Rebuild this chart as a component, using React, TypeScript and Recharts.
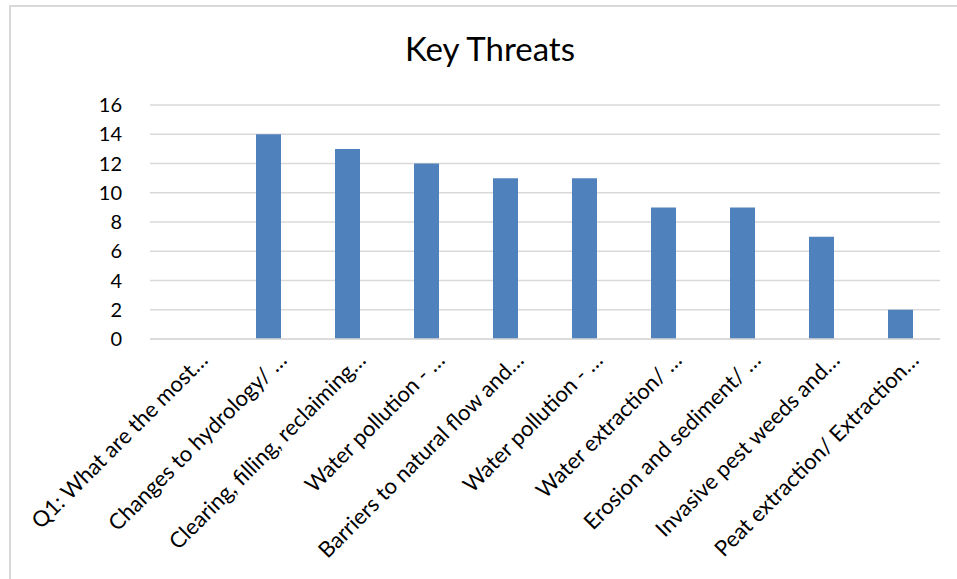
import { BarChart, Bar, XAxis, YAxis, CartesianGrid } from "recharts";

const categories = [
  "Q1: What are the most…",
  "Changes to hydrology/ …",
  "Clearing, filling, reclaiming…",
  "Water pollution - …",
  "Barriers to natural flow and…",
  "Water pollution - …",
  "Water extraction/ …",
  "Erosion and sediment/ …",
  "Invasive pest weeds and…",
  "Peat extraction/ Extraction…",
];
const counts = [0, 14, 13, 12, 11, 11, 9, 9, 7, 2];
const yTicks = [0, 2, 4, 6, 8, 10, 12, 14, 16];

const data = categories.map((name, i) => ({ name, value: counts[i] }));

const FONT = "Lato, 'Open Sans', sans-serif";

// rotated category label, end of text sits just under the tick
function CategoryTick({ x, y, payload }: any) {
  const tx = x + 8;
  const ty = y + 3;
  return (
    <text
      x={tx}
      y={ty}
      transform={`rotate(-45, ${tx}, ${ty})`}
      textAnchor="end"
      dy="0.75em"
      fontSize={22}
      fontFamily={FONT}
      fill="#000"
    >
      {payload.value}
    </text>
  );
}

export default function App() {
  return (
    <div
      style={{
        position: "absolute",
        left: 0,
        top: 0,
        width: 957,
        height: 579,
        background: "#fff",
        overflow: "hidden",
      }}
    >
      {/* chart frame, cut off at the right and bottom like the original */}
      <div
        style={{
          position: "absolute",
          left: 9,
          top: 5,
          width: 980,
          height: 600,
          border: "2px solid #d9d9d9",
          boxSizing: "border-box",
        }}
      />
      <div
        style={{
          position: "absolute",
          left: 0,
          top: 28,
          width: 980,
          textAlign: "center",
          fontFamily: FONT,
          fontSize: 33,
          color: "#000",
        }}
      >
        Key Threats
      </div>
      <div style={{ position: "absolute", left: 0, top: 0 }}>
        <BarChart
          width={957}
          height={579}
          data={data}
          margin={{ top: 105, right: 17, left: 0, bottom: 0 }}
        >
          <CartesianGrid vertical={false} stroke="#d9d9d9" strokeWidth={1.5} />
          <XAxis
            dataKey="name"
            height={240}
            interval={0}
            tick={<CategoryTick />}
            tickLine={false}
            axisLine={{ stroke: "#d9d9d9", strokeWidth: 1.5 }}
          />
          <YAxis
            width={150}
            domain={[0, 16]}
            ticks={yTicks}
            axisLine={false}
            tickLine={false}
            tickMargin={22}
            tick={{ fontSize: 20, fontFamily: FONT, fill: "#000" }}
          />
          <Bar dataKey="value" fill="#4f81bd" barSize={25} isAnimationActive={false} />
        </BarChart>
      </div>
    </div>
  );
}
